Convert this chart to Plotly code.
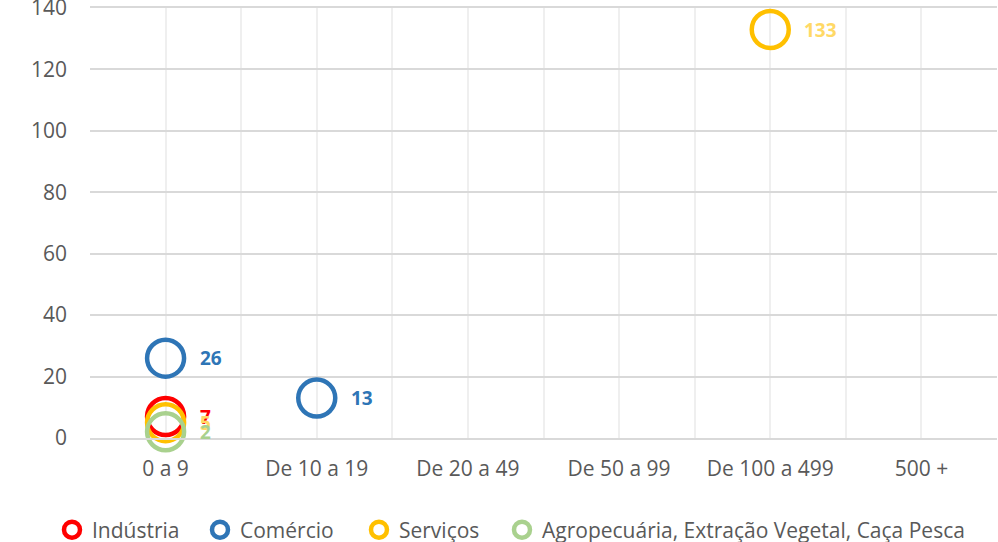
import plotly.graph_objects as go

categories = ["0 a 9", "De 10 a 19", "De 20 a 49", "De 50 a 99", "De 100 a 499", "500 +"]
series_names = ["Indústria", "Comércio", "Serviços", "Agropecuária, Extração Vegetal, Caça Pesca"]
industria_cats = ["0 a 9"]
industria_vals = [7]
comercio_cats = ["0 a 9", "De 10 a 19"]
comercio_vals = [26, 13]
servicos_cats = ["0 a 9", "De 100 a 499"]
servicos_vals = [5, 133]
agro_cats = ["0 a 9"]
agro_vals = [2]
y_ticks = [0, 20, 40, 60, 80, 100, 120, 140]

marker_colors = ["#FF0000", "#2E75B6", "#FFC000", "#A9D18E"]
label_colors = ["#FF0000", "#2E75B6", "#FFD966", "#A9D18E"]
legend_x = [0.0521, 0.2004, 0.3597, 0.503]

series = [
    (industria_cats, industria_vals),
    (comercio_cats, comercio_vals),
    (servicos_cats, servicos_vals),
    (agro_cats, agro_vals),
]

font_family = "Open Sans, DejaVu Sans, sans-serif"
fig = go.Figure()
annotations = []
legends = {}
for i, (name, (cats, vals), mc, lc) in enumerate(zip(series_names, series, marker_colors, label_colors)):
    xs = [categories.index(c) + 1 for c in cats]
    lg = "legend" if i == 0 else f"legend{i+1}"
    fig.add_trace(go.Scatter(
        x=xs, y=vals, name=name, mode="markers", legend=lg,
        marker=dict(symbol="circle-open", size=37, color=mc, line=dict(width=4.5, color=mc)),
        cliponaxis=False,
    ))
    legends[lg] = dict(
        orientation="h", xref="container", yref="container",
        x=legend_x[i], xanchor="left", y=0.0221, yanchor="middle",
        font=dict(size=21, color="#595959"), itemsizing="trace",
        bgcolor="rgba(0,0,0,0)",
    )
    for xv, yv in zip(xs, vals):
        annotations.append(dict(
            x=xv, y=yv, xref="x", yref="y", text=str(yv), showarrow=False,
            xanchor="left", yanchor="middle", xshift=32,
            font=dict(color=lc, size=19, family=font_family, weight="bold"),
        ))

fig.update_layout(
    width=998, height=542,
    margin=dict(l=90, r=1, t=8, b=104, autoexpand=False),
    paper_bgcolor="white", plot_bgcolor="white",
    font=dict(family=font_family, size=21, color="#595959"),
    showlegend=True,
    annotations=annotations,
    xaxis=dict(
        range=[0.5, 6.5], tickvals=list(range(1, 7)), ticktext=categories,
        showgrid=True, gridcolor="#EFEFEF", gridwidth=2,
        minor=dict(tick0=0.5, dtick=1, showgrid=True, gridcolor="#EFEFEF", gridwidth=2),
        zeroline=False, showline=True, mirror=True, linecolor="#D9D9D9", linewidth=2,
        ticks="",
        tickfont=dict(size=21, color="#595959"), ticklabelstandoff=11,
    ),
    yaxis=dict(
        range=[0, 140], tickvals=y_ticks, showgrid=True, gridcolor="#D9D9D9", gridwidth=2,
        zeroline=False, showline=False, ticks="", ticklabeloverflow="allow",
        tickfont=dict(size=21, color="#595959"), ticklabelstandoff=22,
    ),
    **legends,
)

fig.write_html("out.html", post_script="document.body.style.margin='0';",
               config={"displayModeBar": False})
